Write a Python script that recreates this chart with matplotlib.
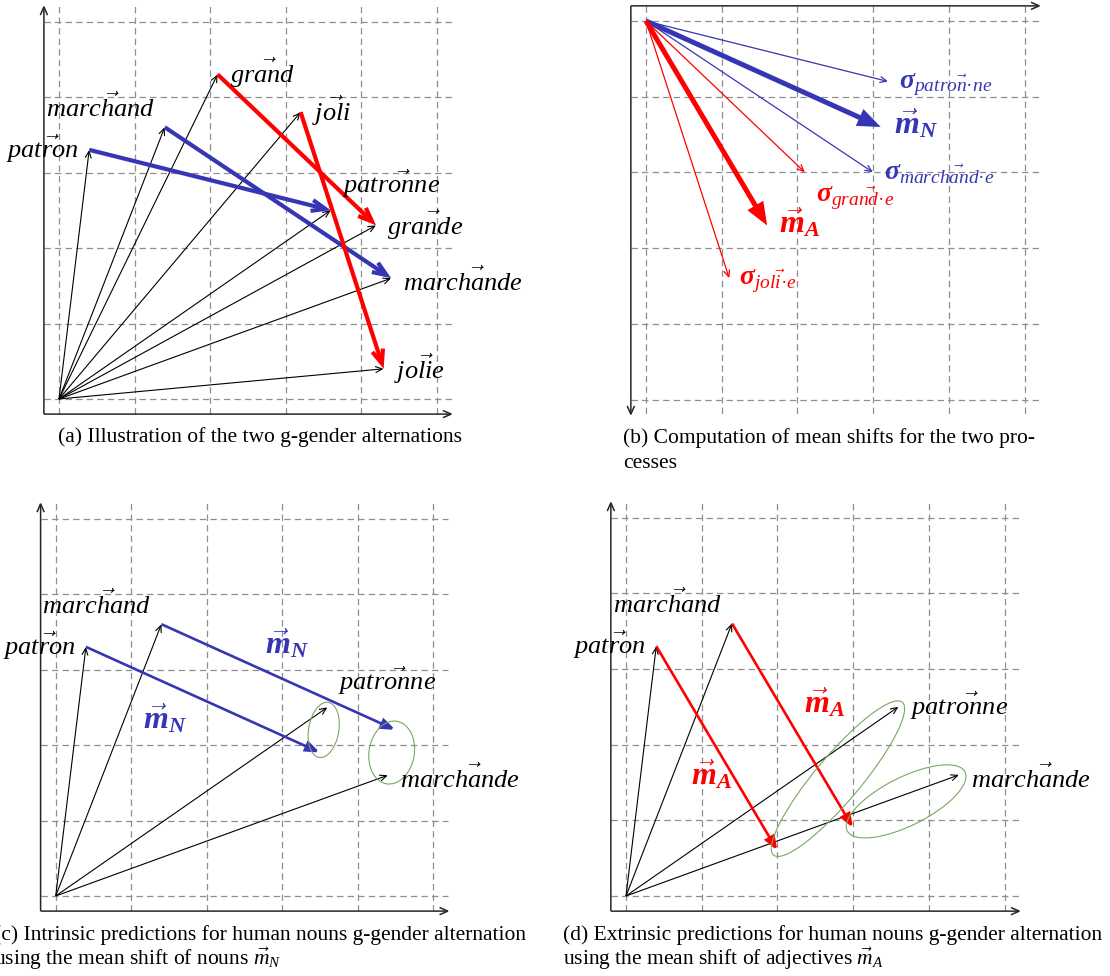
import matplotlib
matplotlib.use("Agg")
import matplotlib.pyplot as plt
from matplotlib.patches import Ellipse, FancyArrowPatch, ArrowStyle
import numpy as np

plt.rcParams["font.family"] = "Liberation Serif"
plt.rcParams["mathtext.fontset"] = "custom"
plt.rcParams["mathtext.rm"] = "Liberation Serif"
plt.rcParams["mathtext.it"] = "Liberation Serif:italic"
plt.rcParams["mathtext.bf"] = "Liberation Serif:bold"
plt.rcParams["mathtext.bfit"] = "Liberation Serif:bold:italic"
plt.rcParams["lines.scale_dashes"] = False

# ---- word vectors in the 2D toy space ----
words = ["patron", "marchand", "grand", "joli",
         "patronne", "marchande", "grande", "jolie"]
word_x = [0.4, 1.4, 2.1, 3.2, 3.6, 4.4, 4.2, 4.3]
word_y = [3.3, 3.6, 4.3, 3.8, 2.5, 1.6, 2.3, 0.4]

noun_pairs = [("patron", "patronne"), ("marchand", "marchande")]
adj_pairs = [("grand", "grande"), ("joli", "jolie")]

shift_names = {"patron": "patron·ne", "marchand": "marchand·e",
               "grand": "grand·e", "joli": "joli·e"}

captions = {
    "a": ["(a) Illustration of the two g-gender alternations"],
    "b": ["(b) Computation of mean shifts for the two pro-", "cesses"],
    "c": ["(c) Intrinsic predictions for human nouns g-gender alternation",
          r"using the mean shift of nouns $\vec{m}_N$"],
    "d": ["(d) Extrinsic predictions for human nouns g-gender alternation",
          r"using the mean shift of adjectives $\vec{m}_A$"],
}

V = {w: np.array([x, y]) for w, x, y in zip(words, word_x, word_y)}
shift = {m: V[f] - V[m] for m, f in noun_pairs + adj_pairs}
m_N = np.mean([shift[m] for m, _ in noun_pairs], axis=0)
m_A = np.mean([shift[m] for m, _ in adj_pairs], axis=0)

# ---- styles ----
BLUE = "#3636b4"
RED = "#ff0000"
GREEN = "#79a863"
GRID = "#8f8f8f"
AXIS = "#262626"
W, H = 1110, 976
WORD_SIZE = 19
MEAN_SIZE = 23
SIGMA_SIZE = 20
CAP = 15.5

fig = plt.figure(figsize=(W / 100, H / 100), dpi=100)


def panel(ox, oy, u, box):
    l, t, r, b = box
    ax = fig.add_axes([l / W, 1 - b / H, (r - l) / W, (b - t) / H])
    ax.set_xlim((l - ox) / u, (r - ox) / u)
    ax.set_ylim((oy - b) / u, (oy - t) / u)
    ax.axis("off")
    return ax


def arrow(ax, p0, p1, color="k", lw=0.8, hl=5.0, hw=2.2, filled=False, z=3):
    style = ArrowStyle("-|>" if filled else "->", head_length=hl, head_width=hw)
    ax.add_patch(FancyArrowPatch(tuple(p0), tuple(p1), arrowstyle=style,
                                 mutation_scale=1, lw=lw, color=color,
                                 shrinkA=0, shrinkB=0, zorder=z,
                                 joinstyle="miter", capstyle="butt"))


def frame(ax, s=1):
    for k in range(6):
        ax.plot([k, k], [-0.2 * s, 5.2 * s], color=GRID, lw=0.9,
                ls=(0, (4.6, 3.0)), zorder=1)
        ax.plot([-0.2, 5.2], [k * s, k * s], color=GRID, lw=0.9,
                ls=(0, (4.6, 3.0)), zorder=1)
    arrow(ax, (-0.2, -0.2 * s), (5.22, -0.2 * s), color=AXIS, lw=1.1,
          hl=6, hw=2.6, z=2)
    arrow(ax, (-0.2, -0.2 * s), (-0.2, 5.22 * s), color=AXIS, lw=1.1,
          hl=6, hw=2.6, z=2)


def label(ax, xy, s, dx, dy, ha="left", color="k", size=WORD_SIZE):
    ax.annotate(s, xy=tuple(xy), xytext=(dx, dy), textcoords="offset pixels",
                ha=ha, va="baseline", color=color, fontsize=size,
                annotation_clip=False, zorder=6)


def wlabel(w):
    return r"$\vec{\mathit{%s}}$" % w


# label placement (pixel offsets) for the word vectors
word_lab = {
    "patron": (-10, -8, "right"),
    "marchand": (-10, 10, "right"),
    "grand": (12, -9, "left"),
    "joli": (11, -9, "left"),
    "patronne": (11, 17, "left"),
    "grande": (11, -10, "left"),
    "marchande": (12, -13, "left"),
    "jolie": (10, -10, "left"),
}

# ---------------- (a) ----------------
axa = panel(59, 399, 75.5, (0, 0, 555, 425))
frame(axa)
for w in words:
    arrow(axa, (0, 0), V[w])
for m, f in noun_pairs:
    arrow(axa, V[m], V[f], color=BLUE, lw=3.0, hl=10, hw=4.0, z=4)
for m, f in adj_pairs:
    arrow(axa, V[m], V[f], color=RED, lw=3.0, hl=10, hw=4.0, z=5)
for w in words:
    dx, dy, ha = word_lab[w]
    label(axa, V[w], wlabel(w), dx, dy, ha)

# ---------------- (b) ----------------
axb = panel(646, 21, 75.7, (560, 0, 1110, 425))
frame(axb, s=-1)
sig_lab = {"patron": (11, -7), "marchand": (11, -8),
           "grand": (11, -30), "joli": (10, -7)}
for m, _ in noun_pairs:
    arrow(axb, (0, 0), shift[m], color=BLUE, lw=0.9, hl=5, hw=2.2)
for m, _ in adj_pairs:
    arrow(axb, (0, 0), shift[m], color=RED, lw=0.9, hl=5, hw=2.2)
arrow(axb, (0, 0), m_N, color=BLUE, lw=3.6, hl=10, hw=4.0, filled=True, z=4)
arrow(axb, (0, 0), m_A, color=RED, lw=3.6, hl=10, hw=4.0, filled=True, z=4)
for m, _ in noun_pairs + adj_pairs:
    col = BLUE if m in dict(noun_pairs) else RED
    dx, dy = sig_lab[m]
    label(axb, shift[m],
          r"$\mathbfit{\sigma}_{\vec{\mathit{%s}}}$" % shift_names[m],
          dx, dy, color=col, size=SIGMA_SIZE)
label(axb, m_N, r"$\vec{\mathbfit{m}}_{\mathbfit{N}}$", 13, -7, color=BLUE,
      size=MEAN_SIZE)
label(axb, m_A, r"$\vec{\mathbfit{m}}_{\mathbfit{A}}$", 12, -7, color=RED,
      size=MEAN_SIZE)


# ---------------- (c) and (d) ----------------
def prediction_panel(ax, mean_shift, color, lab, lab_offsets, ell_sizes):
    nouns = [m for m, _ in noun_pairs] + [f for _, f in noun_pairs]
    for w in nouns:
        arrow(ax, (0, 0), V[w])
    for (m, f), (dx, dy), (a, b) in zip(noun_pairs, lab_offsets, ell_sizes):
        pred = V[m] + mean_shift
        arrow(ax, V[m], pred, color=color, lw=1.9, hl=8, hw=3.0,
              filled=True, z=4)
        mid = (V[m] + pred) / 2
        label(ax, mid, lab, dx, dy, color=color, size=MEAN_SIZE)
        c = (V[f] + pred) / 2
        d = V[f] - pred
        ang = np.degrees(np.arctan2(d[1], d[0]))
        ax.add_patch(Ellipse(tuple(c), 2 * a, 2 * b, angle=ang, fill=False,
                             edgecolor=GREEN, lw=0.8, zorder=5))


axc = panel(55.7, 896, 75.5, (0, 490, 555, 920))
frame(axc)
prediction_panel(axc, m_N, BLUE, r"$\vec{\mathbfit{m}}_{\mathbfit{N}}$",
                 [(-60, -29), (-13, 24)], [(0.37, 0.20), (0.42, 0.30)])
for w in ["patron", "marchand", "patronne", "marchande"]:
    dx, dy, ha = word_lab[w]
    label(axc, V[w], wlabel(w), dx, dy, ha)

axd = panel(626, 896, 75.7, (560, 490, 1110, 920))
frame(axd)
prediction_panel(axd, m_A, RED, r"$\vec{\mathbfit{m}}_{\mathbfit{A}}$",
                 [(-26, -36), (11, 13)], [(1.32, 0.30), (0.87, 0.32)])
for w in ["patron", "marchand", "patronne", "marchande"]:
    dx, dy, ha = word_lab[w]
    if w == "patronne":
        dx, dy, ha = 11, -8, "left"
    label(axd, V[w], wlabel(w), dx, dy, ha)


# ---------------- captions ----------------
def caption(lines, x, y0, ha="left", step=25):
    for i, s in enumerate(lines):
        fig.text(x / W, 1 - (y0 + i * step) / H, s, ha=ha, va="baseline",
                 fontsize=CAP)


caption(captions["a"], 260.5, 442, ha="center")
caption(captions["b"], 623, 443)
caption(captions["c"], -6, 940)
caption(captions["d"], 563, 940)

fig.savefig("out.png", dpi=100)
